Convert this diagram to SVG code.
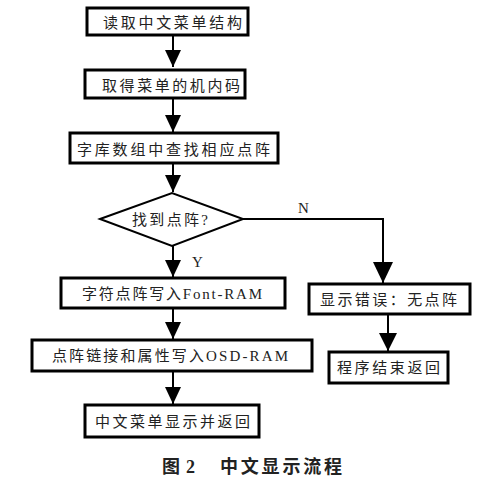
<svg xmlns="http://www.w3.org/2000/svg" width="500" height="490" viewBox="0 0 500 490">
<style>
.box{fill:#fff;stroke:#000;stroke-width:3}
.t{font-family:"Liberation Serif","Noto Sans CJK SC",serif;font-size:15px;fill:#222}
.ln{fill:none;stroke:#000;stroke-width:2}
.cap{font-family:"Liberation Serif","Noto Sans CJK SC",serif;font-size:18px;font-weight:bold;fill:#222}
</style>
<rect width="500" height="490" fill="#fff"/>
<g id="connectors">
<path class="ln" d="M173,35 V67"/>
<path class="ln" d="M173,98 V132"/>
<path class="ln" d="M173,163 V192"/>
<path class="ln" d="M173,246 V277"/>
<path class="ln" d="M173,308 V339"/>
<path class="ln" d="M173,371 V404"/>
<path class="ln" d="M243,219 H383 V283"/>
<path class="ln" d="M388,314 V351"/>
<path d="M165,50 H181 L173,67 Z"/>
<path d="M165,115 H181 L173,132 Z"/>
<path d="M165,175 H181 L173,192 Z"/>
<path d="M165,260 H181 L173,277 Z"/>
<path d="M165,322 H181 L173,339 Z"/>
<path d="M165,387 H181 L173,404 Z"/>
<path d="M373,262 H393 L383,283 Z"/>
<path d="M379,333 H397 L388,351 Z"/>
<text class="t" x="298" y="213" font-size="16">N</text>
<text class="t" x="192" y="267" font-size="16">Y</text>
</g>
<g id="n1"><rect class="box" x="87" y="8" width="161" height="27"/><text class="t" x="103" y="28" textLength="139" lengthAdjust="spacing">读取中文菜单结构</text></g>
<g id="n2"><rect class="box" x="85" y="70" width="160" height="28"/><text class="t" x="102" y="91" textLength="138" lengthAdjust="spacing">取得菜单的机内码</text></g>
<g id="n3"><rect class="box" x="70" y="133" width="208" height="30"/><text class="t" x="77" y="155" textLength="193" lengthAdjust="spacing">字库数组中查找相应点阵</text></g>
<g id="n4"><path d="M100,219 L172,193 L243,219 L172,246 Z" fill="#fff" stroke="#000" stroke-width="2"/><text class="t" x="132" y="225" textLength="76" lengthAdjust="spacing">找到点阵?</text></g>
<g id="n5"><rect class="box" x="61" y="278" width="224" height="30"/><text class="t" x="82" y="299" textLength="180" lengthAdjust="spacing">字符点阵写入Font-RAM</text></g>
<g id="n6"><rect class="box" x="309" y="284" width="161" height="30"/><text class="t" x="320" y="305" textLength="137" lengthAdjust="spacing">显示错误：无点阵</text></g>
<g id="n7"><rect class="box" x="32" y="340" width="280" height="31"/><text class="t" x="52" y="361" textLength="236" lengthAdjust="spacing">点阵链接和属性写入OSD-RAM</text></g>
<g id="n8"><rect class="box" x="329" y="352" width="119" height="31"/><text class="t" x="337" y="373" textLength="103" lengthAdjust="spacing">程序结束返回</text></g>
<g id="n9"><rect class="box" x="85" y="405" width="174" height="32"/><text class="t" x="95" y="427" textLength="155" lengthAdjust="spacing">中文菜单显示并返回</text></g>
<text class="cap" x="162" y="473" textLength="33" lengthAdjust="spacing">图 2</text>
<text class="cap" x="220" y="473" textLength="122" lengthAdjust="spacing">中文显示流程</text>
</svg>
